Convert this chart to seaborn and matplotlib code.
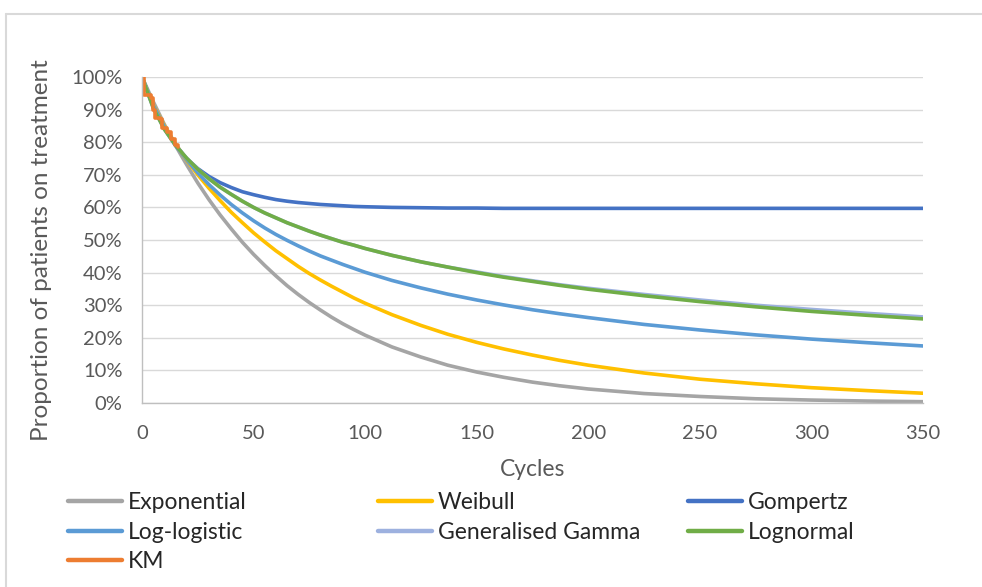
import pandas as pd
import matplotlib
matplotlib.use("Agg")
import matplotlib.pyplot as plt
import seaborn as sns
from matplotlib.lines import Line2D

# values
cycles = [0, 5, 10, 15, 20, 25, 30, 35, 40, 45, 50, 55, 60, 65, 70, 75, 80, 85, 90, 95,
          100, 112, 125, 137, 150, 162, 175, 187, 200, 225, 250, 275, 300, 325, 350]
exponential = [1.000, 0.925, 0.855, 0.790, 0.731, 0.675, 0.624, 0.577, 0.534, 0.493,
               0.456, 0.422, 0.390, 0.360, 0.333, 0.308, 0.285, 0.263, 0.243, 0.225,
               0.208, 0.172, 0.141, 0.116, 0.095, 0.079, 0.064, 0.053, 0.043,
               0.029, 0.020, 0.013, 0.009, 0.006, 0.004]
weibull = [1.000, 0.915, 0.851, 0.795, 0.745, 0.700, 0.659, 0.621, 0.585, 0.553,
           0.522, 0.494, 0.467, 0.443, 0.419, 0.397, 0.377, 0.358, 0.340, 0.322,
           0.306, 0.271, 0.238, 0.211, 0.186, 0.166, 0.147, 0.131, 0.116,
           0.092, 0.073, 0.059, 0.047, 0.038, 0.030]
gompertz = [1.000, 0.909, 0.842, 0.790, 0.750, 0.719, 0.695, 0.676, 0.661, 0.648,
            0.639, 0.631, 0.624, 0.619, 0.615, 0.612, 0.609, 0.607, 0.605, 0.603,
            0.602, 0.600, 0.599, 0.598, 0.598, 0.597, 0.597, 0.597, 0.597,
            0.597, 0.597, 0.597, 0.597, 0.597, 0.597]
loglogistic = [1.000, 0.913, 0.848, 0.793, 0.747, 0.706, 0.670, 0.638, 0.609, 0.583,
               0.559, 0.537, 0.517, 0.499, 0.482, 0.466, 0.451, 0.438, 0.425, 0.413,
               0.401, 0.376, 0.353, 0.334, 0.316, 0.301, 0.286, 0.274, 0.262,
               0.241, 0.224, 0.209, 0.196, 0.185, 0.175]
gengamma = [1.000, 0.906, 0.840, 0.791, 0.751, 0.717, 0.688, 0.662, 0.640, 0.619,
            0.600, 0.583, 0.568, 0.553, 0.540, 0.527, 0.515, 0.504, 0.493, 0.484,
            0.474, 0.453, 0.433, 0.417, 0.402, 0.388, 0.375, 0.363, 0.352,
            0.333, 0.316, 0.300, 0.287, 0.275, 0.264]
lognormal = [1.000, 0.906, 0.840, 0.791, 0.751, 0.717, 0.688, 0.662, 0.640, 0.619,
             0.600, 0.583, 0.568, 0.553, 0.540, 0.527, 0.515, 0.504, 0.493, 0.484,
             0.474, 0.453, 0.433, 0.417, 0.400, 0.386, 0.373, 0.361, 0.349,
             0.329, 0.311, 0.295, 0.281, 0.269, 0.258]
km_cycles = [0, 1, 4, 5, 6, 8, 9, 11, 13, 15, 16]
km = [1.000, 0.945, 0.935, 0.900, 0.875, 0.870, 0.845, 0.830, 0.810, 0.790, 0.785]

names = ["Exponential", "Weibull", "Gompertz", "Log-logistic",
         "Generalised Gamma", "Lognormal", "KM"]
colors = ["#A5A5A5", "#FFC000", "#4472C4", "#5B9BD5", "#9DB1DF", "#70AD47", "#ED7D31"]

sns.set_theme(style="whitegrid")
plt.rcParams['font.family'] = ['Lato', 'DejaVu Sans']
txt = "#595959"

fig = plt.figure(figsize=(9.82, 5.87), dpi=100)
ax = fig.add_axes([142 / 982, 1 - 403 / 587, 781 / 982, 326 / 587])

series = [exponential, weibull, gompertz, loglogistic, gengamma, lognormal]
for name, vals, col in zip(names[:6], series, colors[:6]):
    df = pd.DataFrame({"Cycles": cycles, "S": vals})
    sns.lineplot(data=df, x="Cycles", y="S", ax=ax, color=col, lw=2.6,
                 label=name, legend=False)
df_km = pd.DataFrame({"Cycles": km_cycles, "S": km})
sns.lineplot(data=df_km, x="Cycles", y="S", ax=ax, color=colors[6], lw=2.6,
             drawstyle="steps-post", label="KM", legend=False)

ax.set_xlim(0, 350)
ax.set_ylim(0, 1.0)
ax.set_xticks(range(0, 351, 50))
ax.set_yticks([i / 10 for i in range(11)])
ax.set_yticklabels([f"{i * 10}%" for i in range(11)])
ax.set_xlabel("")
ax.set_ylabel("")
ax.grid(axis="y", color="#D9D9D9", lw=1.0)
ax.grid(axis="x", visible=False)
for s in ["top", "right"]:
    ax.spines[s].set_visible(False)
for s in ["left", "bottom"]:
    ax.spines[s].set_color("#BFBFBF")
    ax.spines[s].set_linewidth(1.0)
ax.tick_params(axis="y", labelsize=14.5, colors=txt, pad=14, length=0)
ax.tick_params(axis="x", labelsize=14.5, colors=txt, pad=16, length=0)

fig.text(42 / 982, 1 - 250 / 587, "Proportion of patients on treatment",
         rotation=90, ha="center", va="center", fontsize=17.5, color=txt)
fig.text(533 / 982, 1 - 470 / 587, "Cycles", ha="center", va="center",
         fontsize=16.5, color=txt)

# legend laid out row by row, three columns
cols_x = [68 / 982, 378 / 982, 688 / 982]
groups = [[0, 3, 6], [1, 4], [2, 5]]
for x0, idx in zip(cols_x, groups):
    handles = [Line2D([], [], color=colors[i], lw=3.2) for i in idx]
    leg = fig.legend(handles, [names[i] for i in idx], loc="upper left",
                     bbox_to_anchor=(x0, 1 - 492 / 587), frameon=False,
                     fontsize=16.5, handlelength=2.36, handletextpad=0.26,
                     borderpad=0, borderaxespad=0, labelspacing=0.38)
    for t in leg.get_texts():
        t.set_color("#262626")

# outer chart frame
fig.add_artist(Line2D([6 / 982, 1], [1 - 14 / 587, 1 - 14 / 587],
                      transform=fig.transFigure, color="#D9D9D9", lw=1.5))
fig.add_artist(Line2D([6 / 982, 6 / 982], [0, 1 - 14 / 587],
                      transform=fig.transFigure, color="#D9D9D9", lw=1.5))

fig.savefig("out.png", dpi=100)
